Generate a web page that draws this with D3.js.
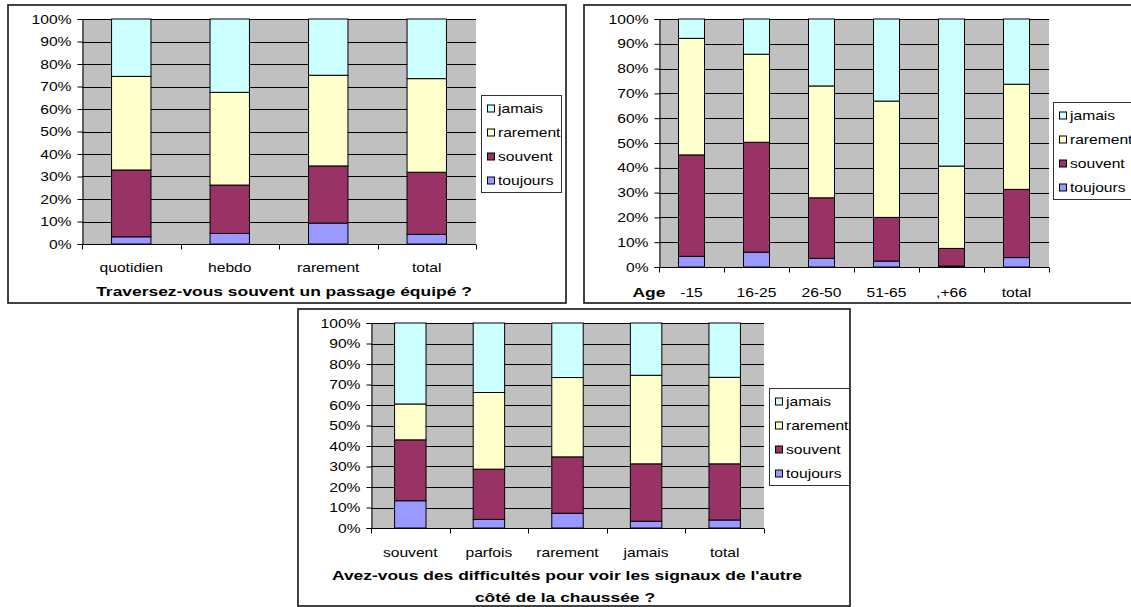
<!DOCTYPE html>
<html>
<head>
<meta charset="utf-8">
<script src="https://cdn.jsdelivr.net/npm/d3@7"></script>
<style>
  html, body { margin: 0; padding: 0; background: #fff; }
  svg { display: block; font-family: "Liberation Sans", Arial, sans-serif; }
</style>
</head>
<body>
<svg id="page" width="1131" height="607"></svg>
<script>
// Response categories (stack order bottom to top) and their fills
const seriesKeys = ["toujours", "souvent", "rarement", "jamais"];
const seriesColors = ["#9999FF", "#993366", "#FFFFCC", "#CCFFFF"];
const legendOrder = ["jamais", "rarement", "souvent", "toujours"];

// Y axis ticks (percent)
const yTicks = [0, 10, 20, 30, 40, 50, 60, 70, 80, 90, 100];

// Chart 1 — frequency of using a marked crossing, by travel frequency
const passageCats = ["quotidien", "hebdo", "rarement", "total"];
const passageToujours = [3.2, 4.7, 9.3, 4.3];
const passageSouvent = [29.7, 21.5, 25.4, 27.6];
const passageRarement = [41.6, 41.2, 40.3, 41.6];
const passageJamais = [25.5, 32.6, 25.0, 26.5];

// Chart 2 — same question, by age group
const ageCats = ["-15", "16-25", "26-50", "51-65", ",+66", "total"];
const ageToujours = [4.3, 6.0, 3.5, 2.4, 0.4, 3.8];
const ageSouvent = [40.9, 44.3, 24.4, 17.6, 7.1, 27.5];
const ageRarement = [47.0, 35.5, 45.1, 46.9, 33.2, 42.4];
const ageJamais = [7.8, 14.2, 27.0, 33.1, 59.3, 26.3];

// Chart 3 — same question, by difficulty seeing the signals across the road
const signauxCats = ["souvent", "parfois", "rarement", "jamais", "total"];
const signauxToujours = [13.3, 4.2, 7.2, 3.3, 3.9];
const signauxSouvent = [29.7, 24.5, 27.5, 28.0, 27.4];
const signauxRarement = [17.5, 37.4, 38.7, 43.2, 42.2];
const signauxJamais = [39.5, 33.9, 26.6, 25.5, 26.5];

const svg = d3.select("#page");
const FONT = 13;
const STRETCH = 1.2;
const BOLD_STRETCH = 1.34;

// Widen text horizontally (the chart font is rendered wide)
function stretch(sel, k) {
  sel.each(function () {
    const len = this.getComputedTextLength();
    d3.select(this).attr("textLength", len * (k || STRETCH)).attr("lengthAdjust", "spacingAndGlyphs");
  });
}

function buildRows(cats, cols) {
  return cats.map((c, i) => {
    const r = { cat: c };
    seriesKeys.forEach((k, j) => { r[k] = cols[j][i]; });
    return r;
  });
}

function drawChart(cfg) {
  const g = svg.append("g");

  // outer chart frame
  g.append("rect")
    .attr("x", cfg.box.x).attr("y", cfg.box.y)
    .attr("width", cfg.box.w).attr("height", cfg.box.h)
    .attr("fill", "#fff").attr("stroke", "#222").attr("stroke-width", 1.7);

  const p = cfg.plot;
  const xb = d3.scaleBand().domain(cfg.cats).range([p.x, p.x + p.w]);
  const y = d3.scaleLinear().domain([0, 100]).range([p.y + p.h, p.y]);

  // plot area
  g.append("rect").attr("x", p.x).attr("y", p.y).attr("width", p.w).attr("height", p.h).attr("fill", "#C0C0C0");

  // gridlines
  g.append("g").selectAll("line").data(yTicks.filter(t => t > 0)).join("line")
    .attr("x1", p.x).attr("x2", p.x + p.w)
    .attr("y1", d => Math.round(y(d)) + 0.5).attr("y2", d => Math.round(y(d)) + 0.5)
    .attr("stroke", "#000").attr("stroke-width", 1);

  // stacked bars
  const rows = buildRows(cfg.cats, cfg.values);
  const stacked = d3.stack().keys(seriesKeys)(rows);
  const color = d3.scaleOrdinal().domain(seriesKeys).range(seriesColors);
  g.append("g").selectAll("g").data(stacked).join("g")
    .attr("fill", d => color(d.key))
    .selectAll("rect").data(d => d).join("rect")
    .attr("x", d => xb(d.data.cat) + xb.bandwidth() * 0.3)
    .attr("width", xb.bandwidth() * 0.4)
    .attr("y", d => y(d[1]))
    .attr("height", d => y(d[0]) - y(d[1]))
    .attr("stroke", "#000").attr("stroke-width", 1);

  // y axis
  const yAxis = g.append("g").attr("transform", `translate(${p.x + 0.5},0)`)
    .call(d3.axisLeft(y).tickValues(yTicks).tickSize(5).tickPadding(6).tickFormat(d => d + "%"));
  yAxis.select(".domain").attr("stroke", "#000");
  yAxis.selectAll(".tick line").attr("stroke", "#000");
  yAxis.selectAll(".tick text").attr("font-size", FONT).attr("fill", "#000")
    .attr("font-family", "Liberation Sans, Arial, sans-serif").call(stretch);

  // x axis with ticks between categories
  const base = y(0);
  const xAxis = g.append("g").attr("transform", `translate(0,${base + 0.5})`);
  xAxis.append("line").attr("x1", p.x).attr("x2", p.x + p.w).attr("stroke", "#000");
  const bounds = cfg.cats.map(c => xb(c)).concat([p.x + p.w]);
  xAxis.selectAll("line.tk").data(bounds).join("line").attr("class", "tk")
    .attr("x1", d => Math.round(d) + 0.5).attr("x2", d => Math.round(d) + 0.5)
    .attr("y1", 0).attr("y2", 5).attr("stroke", "#000");

  g.append("g").selectAll("text").data(cfg.cats).join("text")
    .attr("x", d => xb(d) + xb.bandwidth() / 2)
    .attr("y", cfg.xLabelY).attr("dy", "0.35em")
    .attr("text-anchor", "middle").attr("font-size", FONT).attr("fill", "#000")
    .text(d => d).call(stretch);

  // axis titles
  g.append("g").selectAll("text").data(cfg.titles).join("text")
    .attr("x", d => d.x).attr("y", d => d.y).attr("dy", "0.35em")
    .attr("text-anchor", "middle").attr("font-size", FONT).attr("font-weight", "bold").attr("fill", "#000")
    .text(d => d.text).call(s => stretch(s, BOLD_STRETCH));

  // legend
  const L = cfg.legend;
  const lg = g.append("g");
  lg.append("rect").attr("x", L.x + 0.5).attr("y", L.y + 0.5).attr("width", L.w).attr("height", L.h)
    .attr("fill", "#fff").attr("stroke", "#333").attr("stroke-width", 1);
  const items = lg.selectAll("g").data(legendOrder).join("g")
    .attr("transform", (d, i) => `translate(${L.x + 6},${L.y + 13.5 + i * 24})`);
  items.append("rect").attr("x", 0.5).attr("y", -3.5).attr("width", 7).attr("height", 7)
    .attr("fill", d => color(d)).attr("stroke", "#000").attr("stroke-width", 1);
  items.append("text").attr("x", 11).attr("y", 0).attr("dy", "0.35em")
    .attr("font-size", FONT).attr("fill", "#000").text(d => d).call(stretch);
}

drawChart({
  box: { x: 8, y: 5, w: 558, h: 298 },
  plot: { x: 82, y: 19, w: 394, h: 225 },
  cats: passageCats,
  values: [passageToujours, passageSouvent, passageRarement, passageJamais],
  xLabelY: 267,
  titles: [{ text: "Traversez-vous souvent un passage équipé ?", x: 284, y: 291 }],
  legend: { x: 481, y: 95, w: 80, h: 97 }
});

drawChart({
  box: { x: 584, y: 5, w: 560, h: 298 },
  plot: { x: 659, y: 19, w: 390, h: 248 },
  cats: ageCats,
  values: [ageToujours, ageSouvent, ageRarement, ageJamais],
  xLabelY: 292,
  titles: [{ text: "Age", x: 649, y: 292 }],
  legend: { x: 1053, y: 102, w: 82, h: 97 }
});

drawChart({
  box: { x: 298, y: 309, w: 552, h: 297 },
  plot: { x: 371, y: 323, w: 393, h: 205 },
  cats: signauxCats,
  values: [signauxToujours, signauxSouvent, signauxRarement, signauxJamais],
  xLabelY: 552,
  titles: [
    { text: "Avez-vous des difficultés pour voir les signaux de l'autre", x: 567, y: 575 },
    { text: "côté de la chaussée ?", x: 565, y: 597 }
  ],
  legend: { x: 769, y: 388, w: 80, h: 97 }
});
</script>
</body>
</html>
